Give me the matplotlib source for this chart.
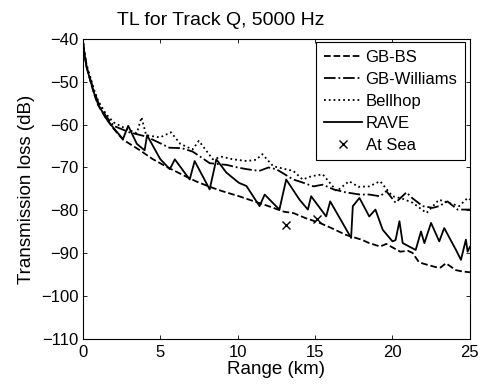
import numpy as np
import matplotlib
matplotlib.use('Agg')
import matplotlib.pyplot as plt

plt.rcParams['font.family'] = ['Liberation Sans', 'DejaVu Sans']
plt.rcParams['font.size'] = 12

# GB-BS (dashed)
rng_bs = [0, 0.1, 0.25, 0.5, 0.75, 1.0, 1.5, 2.0, 2.6, 3.7, 4.5, 5.5, 6.5, 7.3, 8.2, 9.0,
          10.1, 11.0, 12.0, 13.0, 13.6, 14.4, 15.3, 16.0, 17.0, 18.0, 18.5, 19.2, 19.6,
          20.0, 20.5, 21.0, 21.3, 21.7, 22.0, 22.8, 23.1, 23.45, 24.1, 24.5, 25.0]
tl_bs = [-40, -43, -46.5, -49.8, -53, -55.5, -58.5, -61, -63.5, -66, -68, -70, -71.8,
         -73.2, -74.5, -75.5, -76.7, -77.8, -79, -80.3, -80.6, -81.8, -82.9, -84, -85.7,
         -86.8, -87.6, -88.4, -87.8, -88.6, -89.6, -89.4, -89.9, -92, -92.4, -93.2, -93.3,
         -92.3, -93.9, -94.2, -94.4]

# GB-Williams (dash-dot)
rng_gw = [0, 0.1, 0.25, 0.5, 0.75, 1.0, 1.5, 2.0, 3.0, 4.1, 4.8, 5.6, 6.4, 7.1, 7.6, 8.2,
          9.3, 10.0, 10.6, 11.4, 12.0, 12.5, 13.6, 14.2, 14.9, 15.5, 16.2, 17.0, 17.9,
          18.5, 19.2, 19.6, 20.2, 20.9, 21.3, 21.95, 22.6, 23.0, 23.55, 24.2, 24.7, 25.0]
tl_gw = [-40, -43, -46.5, -49.5, -52.3, -54.8, -58, -60.3, -61.8, -62.8, -64, -65.4,
         -65.5, -66.3, -67.5, -69, -69.4, -70, -70.4, -70.8, -70, -70.4, -72.8, -73.5,
         -74.4, -74, -75.1, -75.8, -76.3, -76.3, -76.7, -75.5, -78.2, -75.8, -77.2, -79,
         -79.4, -79, -77.9, -79.8, -79.8, -79.8]

# Bellhop (dotted)
rng_bh = [0, 0.1, 0.25, 0.5, 0.75, 1.0, 1.5, 2.0, 2.8, 3.5, 3.8, 4.1, 5.0, 5.7, 6.3, 7.1,
          7.5, 8.4, 9.0, 9.7, 10.6, 11.2, 11.6, 12.3, 13.1, 13.6, 14.2, 14.8, 15.5, 16.4,
          17.2, 17.8, 18.5, 19.2, 20.0, 20.6, 21.3, 22.2, 23.0, 23.6, 24.3, 24.85, 25.0]
tl_bh = [-40, -43, -46, -49, -52, -54.5, -57.5, -59.5, -61, -62, -58.3, -62.5, -63,
         -61.8, -64.5, -65.8, -63.8, -68.1, -67.5, -68.1, -68.5, -68.2, -66.9, -69.7,
         -70.4, -70.8, -72.8, -72, -71.6, -75.5, -73.2, -74.5, -74.4, -73.2, -76.7,
         -77.2, -78.2, -80.6, -77.5, -78.2, -79, -77.1, -77.5]

# RAVE (solid)
rng_rv = [0, 0.1, 0.25, 0.5, 0.75, 1.0, 1.5, 1.77, 2.6, 2.94, 3.5, 4.0, 4.16, 5.0, 5.63,
          5.95, 6.91, 7.23, 8.2, 8.63, 9.28, 10.1, 10.57, 11.42, 11.75, 12.7, 13.14, 14.0,
          14.54, 14.75, 15.72, 15.98, 17.33, 17.44, 17.87, 18.5, 18.9, 19.37, 20.0, 20.2,
          20.45, 20.66, 21.5, 21.84, 22.06, 22.49, 23.02, 23.34, 24.1, 24.42, 24.74,
          24.85, 25.0]
tl_rv = [-40, -43, -46.5, -49.8, -52.8, -55.3, -58.5, -59.8, -63.4, -60.3, -64.5, -66,
         -62.5, -68, -70.4, -68.1, -72.8, -68.5, -75.1, -68.1, -71.2, -73.6, -74.3, -79,
         -76.3, -79.8, -72.8, -77.5, -79.8, -76.7, -81.4, -77.9, -86.4, -79, -77.1,
         -81.4, -79.8, -84.5, -87.2, -86.9, -82.5, -87.6, -89.2, -84.9, -87.6, -82.9,
         -87.2, -84.1, -89.2, -91.5, -86.8, -89.6, -88.5]

# At Sea measurements
rng_sea = [13.14, 15.15]
tl_sea = [-83.5, -82.1]

fig = plt.figure(figsize=(4.89, 3.85), dpi=100)
ax = fig.add_axes([0.169, 0.1187, 0.792, 0.781])

lw = 1.3
ax.plot(rng_bs, tl_bs, color='black', linestyle='--', lw=lw, label='GB-BS')
ax.plot(rng_gw, tl_gw, color='black', linestyle='-.', lw=lw, label='GB-Williams')
ax.plot(rng_bh, tl_bh, color='black', linestyle=':', lw=lw, label='Bellhop')
ax.plot(rng_rv, tl_rv, color='black', linestyle='-', lw=lw, label='RAVE')
ax.plot(rng_sea, tl_sea, color='black', linestyle='none', marker='x', ms=6, mew=1,
        label='At Sea')

ax.set_xlim(0, 25)
ax.set_ylim(-110, -40)
ax.set_xticks(np.arange(0, 26, 5))
ax.set_yticks(np.arange(-110, -39, 10))
ax.tick_params(direction='in', top=True, right=True, length=3, width=0.6, labelsize=12)
ax.tick_params(axis='x', pad=4)
ax.tick_params(axis='y', pad=3)
for s in ax.spines.values():
    s.set_linewidth(0.8)

ax.set_xlabel('Range (km)', fontsize=13.5, labelpad=1)
ax.set_ylabel('Transmission loss (dB)', fontsize=13.5, labelpad=4)
fig.text(220.5 / 489, 1 - 25 / 385, 'TL for Track Q, 5000 Hz', ha='center',
         va='baseline', fontsize=14)

leg = ax.legend(loc='upper right', bbox_to_anchor=(0.987, 0.988), fancybox=False,
                edgecolor='black', framealpha=1, handlelength=2.3, handletextpad=0.2,
                borderpad=0.45, labelspacing=0.42, borderaxespad=0, fontsize=12)
leg.get_frame().set_linewidth(0.8)

fig.savefig('out.png', dpi=100)
